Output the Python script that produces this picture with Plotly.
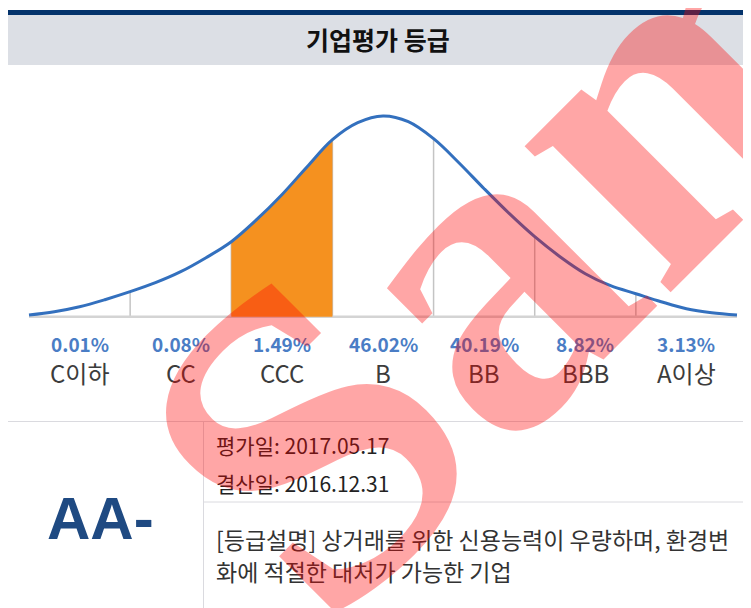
import plotly.graph_objects as go

# Curve: x in grade-bin units (0..7), height in px above baseline
curve_x = [0, 0.25, 0.5, 0.75, 1, 1.25, 1.5, 1.75, 2, 2.25, 2.5, 2.75, 3, 3.25, 3.5,
           3.75, 4, 4.25, 4.5, 4.75, 5, 5.25, 5.5, 5.75, 6, 6.25, 6.5, 6.75, 7]
curve_y = [1.7, 5, 10, 17, 25, 34, 45, 59, 75, 97, 122, 150, 177, 194, 200.7,
           195, 178, 154, 128, 103, 80, 60, 43, 31, 23, 15, 8, 4, 1.7]

grades = ["C이하", "CC", "CCC", "B", "BB", "BBB", "A이상"]
shares = ["0.01%", "0.08%", "1.49%", "46.02%", "40.19%", "8.82%", "3.13%"]
highlight = 2  # CCC

rating = "AA-"
eval_date = "평가일: 2017.05.17"
settle_date = "결산일: 2016.12.31"
desc_lines = ["[등급설명] 상거래를 위한 신용능력이 우량하며, 환경변",
              "화에 적절한 대처가 가능한 기업"]

# page has an 8px body margin, so the figure is a bit smaller than the window
OFF = 8
W, H = 751 - OFF, 608 - OFF
FONT = "Noto Sans CJK KR"


def py(v):
    # window pixel (from top) -> paper y
    return 1 - (v - OFF) / H


def px(v):
    return (v - OFF) / W


fig = go.Figure()

# orange highlighted bin
sel = [i for i, x in enumerate(curve_x) if highlight <= x <= highlight + 1]
fig.add_trace(go.Scatter(
    x=[curve_x[i] for i in sel], y=[curve_y[i] for i in sel],
    mode="lines", line=dict(width=0, shape="spline"),
    fill="tozeroy", fillcolor="#f5911f", hoverinfo="skip"))

fig.add_trace(go.Scatter(
    x=curve_x, y=curve_y, mode="lines",
    line=dict(color="#3370be", width=3, shape="spline"), hoverinfo="skip"))

shapes = []
# vertical bin separators under the curve
for b in range(1, 7):
    h = curve_y[curve_x.index(b)]
    shapes.append(dict(type="line", xref="x", yref="y", x0=b, x1=b, y0=0, y1=h,
                       line=dict(color="#c4c4c4", width=1.5), layer="below"))
# baseline
shapes.append(dict(type="line", xref="x", yref="y", x0=0, x1=7, y0=0, y1=0,
                   line=dict(color="#d4d4d4", width=2.5), layer="below"))

# header
shapes.append(dict(type="rect", xref="paper", yref="paper", x0=px(5), x1=1,
                   y0=py(15), y1=py(10), fillcolor="#04336b", line_width=0))
shapes.append(dict(type="rect", xref="paper", yref="paper", x0=px(7), x1=1,
                   y0=py(65), y1=py(15), fillcolor="#dcdfe5", line_width=0))

# info table lines
grid = "#dadadf"
shapes.append(dict(type="line", xref="paper", yref="paper", x0=px(7), x1=1,
                   y0=py(421.5), y1=py(421.5), line=dict(color=grid, width=1)))
shapes.append(dict(type="line", xref="paper", yref="paper", x0=px(203.5), x1=px(203.5),
                   y0=py(421.5), y1=0, line=dict(color=grid, width=1)))
shapes.append(dict(type="line", xref="paper", yref="paper", x0=px(203.5), x1=1,
                   y0=py(502), y1=py(502), line=dict(color=grid, width=1)))

annotations = []
annotations.append(dict(text="<b>기업평가 등급</b>", xref="paper", yref="paper",
                        x=px(378), y=py(39), xanchor="center", yanchor="middle",
                        showarrow=False, font=dict(family=FONT, size=25, color="#111111")))

for i, (g, s) in enumerate(zip(grades, shares)):
    annotations.append(dict(text="<b>" + s + "</b>", x=i + 0.5, y=-26.5, xref="x", yref="y",
                            xanchor="center", yanchor="middle", showarrow=False,
                            font=dict(family=FONT, size=19, color="#4a7dc5")))
    annotations.append(dict(text=g, x=i + 0.5, y=-55.5, xref="x", yref="y",
                            xanchor="center", yanchor="middle", showarrow=False,
                            font=dict(family=FONT, size=24, color="#3c3c3c")))

annotations.append(dict(text="<b>" + rating + "</b>", xref="paper", yref="paper",
                        x=px(101), y=py(518), xanchor="center", yanchor="middle",
                        showarrow=False,
                        font=dict(family="Liberation Sans", size=60, color="#1f4a82")))
annotations.append(dict(text=eval_date, xref="paper", yref="paper", x=px(214), y=py(445),
                        xanchor="left", yanchor="middle", showarrow=False,
                        font=dict(family=FONT, size=21, color="#222222")))
annotations.append(dict(text=settle_date, xref="paper", yref="paper", x=px(214), y=py(483),
                        xanchor="left", yanchor="middle", showarrow=False,
                        font=dict(family=FONT, size=21, color="#222222")))
for k, line in enumerate(desc_lines):
    annotations.append(dict(text=line, xref="paper", yref="paper", x=px(214),
                            y=py(539 + 32 * k), xanchor="left", yanchor="middle",
                            showarrow=False,
                            font=dict(family=FONT, size=23, color="#333333")))

# watermark
annotations.append(dict(text="<b>Sample</b>", xref="paper", yref="paper",
                        x=px(722), y=py(26), xanchor="center", yanchor="middle",
                        showarrow=False, textangle=-45,
                        font=dict(family="Liberation Serif", size=450,
                                  color="rgba(255,0,0,0.35)")))

x_left = -(29 - OFF) / 101.14
x_right = 7 + (751 - 737) / 101.14
base = 316.7 - OFF
fig.update_layout(
    width=W, height=H, autosize=False,
    margin=dict(l=0, r=0, t=0, b=0),
    paper_bgcolor="white", plot_bgcolor="white",
    showlegend=False,
    xaxis=dict(range=[x_left, x_right], visible=False, fixedrange=True),
    yaxis=dict(range=[-(H - base), base], visible=False, fixedrange=True),
    shapes=shapes, annotations=annotations,
)

fig.write_html("out.html")
